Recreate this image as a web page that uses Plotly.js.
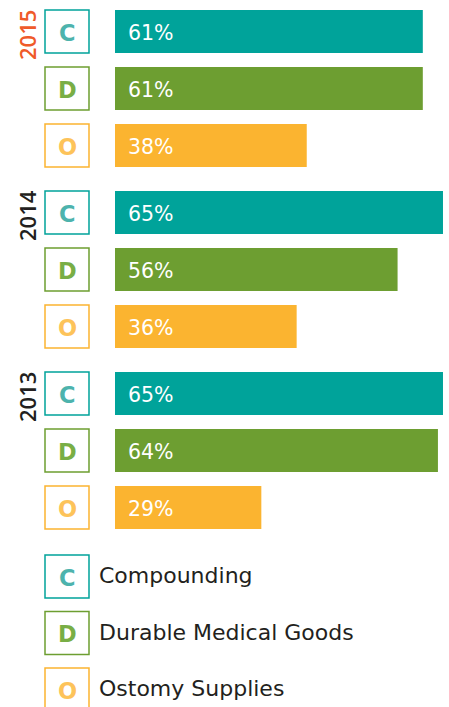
<!DOCTYPE html>
<html>
<head>
<meta charset="utf-8">
<script src="https://cdn.plot.ly/plotly-3.0.1.min.js"></script>
<style>html,body{margin:0;padding:0;background:#fff;}#chart{width:449px;height:707px;}</style>
</head>
<body>
<div id="chart"></div>
<script>
// ---- data ----
const years = ['2015', '2014', '2013'];
const categories = ['Compounding', 'Durable Medical Goods', 'Ostomy Supplies'];
const letters = ['C', 'D', 'O'];
const compounding = [61, 65, 65];      // 2015, 2014, 2013
const durableMedical = [61, 56, 64];
const ostomySupplies = [38, 36, 29];

// ---- styling / layout constants ----
const W = 449, H = 707;
const barColors = ['#00a39a', '#6d9e31', '#fbb430'];
const letterColors = ['#4db3ad', '#79ae45', '#fdc35a'];
const yearColors = ['#ef5a2a', '#231f20', '#231f20'];
const rowTop0 = 10, rowStep = 57, groupGap = 10, rowH = 43;
const barStartPx = 115, pxPerPct = 5.046;
const boxX0 = 45, boxX1 = 89;
const legendTop0 = 555, legendStep = 56.5;
const FONT = 'DejaVu Sans';

const seriesVals = [compounding, durableMedical, ostomySupplies];
function rowTop(g, i) { return rowTop0 + g * (3 * rowStep + groupGap) + i * rowStep; }

const traces = categories.map((cat, i) => ({
  type: 'bar', orientation: 'h', name: cat,
  x: seriesVals[i],
  y: years.map((_, g) => rowTop(g, i) + rowH / 2),
  width: rowH,
  marker: { color: barColors[i], line: { width: 0 } },
  hoverinfo: 'skip', showlegend: false
}));

const shapes = [];
const annotations = [];
const px = v => v / W;

years.forEach((yr, g) => {
  annotations.push({
    xref: 'paper', yref: 'y', x: px(27), y: rowTop(g, 0) + 25,
    text: yr, textangle: -90, showarrow: false,
    xanchor: 'center', yanchor: 'middle',
    font: { family: 'Open Sans', size: 22, weight: 600, color: yearColors[g] }
  });
  categories.forEach((cat, i) => {
    const t = rowTop(g, i);
    shapes.push({
      type: 'rect', xref: 'paper', yref: 'y',
      x0: px(boxX0), x1: px(boxX1), y0: t, y1: t + rowH,
      line: { color: barColors[i], width: 1.5 }, fillcolor: '#fff', layer: 'above'
    });
    annotations.push({
      xref: 'paper', yref: 'y', x: px((boxX0 + boxX1) / 2), y: t + rowH / 2 + 1,
      text: letters[i], showarrow: false, xanchor: 'center', yanchor: 'middle',
      font: { family: FONT, size: 22.5, weight: 700, color: letterColors[i] }
    });
    annotations.push({
      xref: 'x', yref: 'y', x: 0, xshift: 11, y: t + rowH / 2 + 1,
      text: seriesVals[i][g] + '%', showarrow: false, xanchor: 'left', yanchor: 'middle',
      font: { family: FONT, size: 20.5, weight: 400, color: '#ffffff' }
    });
  });
});

categories.forEach((cat, i) => {
  const t = legendTop0 + i * legendStep;
  shapes.push({
    type: 'rect', xref: 'paper', yref: 'y',
    x0: px(boxX0), x1: px(boxX1), y0: t, y1: t + rowH,
    line: { color: barColors[i], width: 1.5 }, fillcolor: '#fff', layer: 'above'
  });
  annotations.push({
    xref: 'paper', yref: 'y', x: px((boxX0 + boxX1) / 2), y: t + rowH / 2 + 1,
    text: letters[i], showarrow: false, xanchor: 'center', yanchor: 'middle',
    font: { family: FONT, size: 22.5, weight: 700, color: letterColors[i] }
  });
  annotations.push({
    xref: 'paper', yref: 'y', x: px(97), y: t + rowH / 2 - 1,
    text: cat, showarrow: false, xanchor: 'left', yanchor: 'middle',
    font: { family: FONT, size: 22, weight: 400, color: '#231f20' }
  });
});

const layout = {
  width: W, height: H,
  margin: { l: 0, r: 0, t: 0, b: 0, pad: 0 },
  paper_bgcolor: '#ffffff', plot_bgcolor: '#ffffff',
  barmode: 'overlay',
  xaxis: { domain: [barStartPx / W, 1], range: [0, (W - barStartPx) / pxPerPct],
           visible: false, showgrid: false, zeroline: false, fixedrange: true },
  yaxis: { range: [H, 0], visible: false, showgrid: false, zeroline: false, fixedrange: true },
  shapes: shapes, annotations: annotations, showlegend: false
};

Plotly.newPlot('chart', traces, layout, { displayModeBar: false, staticPlot: true });
</script>
</body>
</html>
